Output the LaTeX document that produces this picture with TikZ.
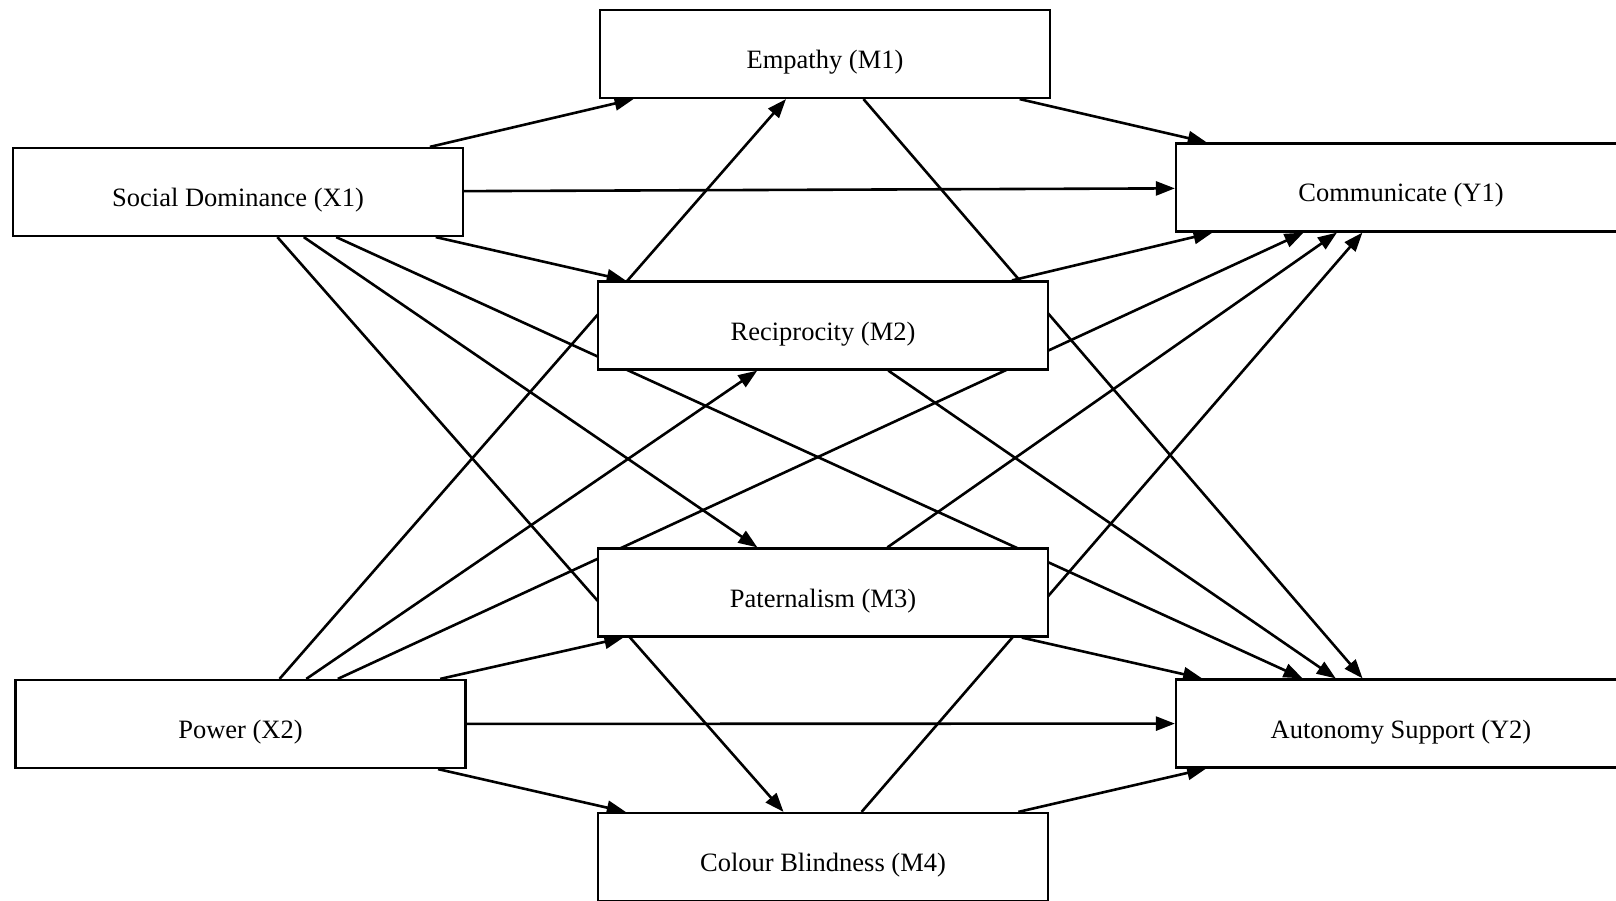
\documentclass[tikz,border=0pt]{standalone}
\usepackage{fontspec}
\setmainfont{Liberation Serif}
\usetikzlibrary{arrows.meta}
\pgfdeclarelayer{edges}
\pgfsetlayers{edges,main}

\tikzset{
  var/.style={draw=black, fill=white, line width=2.2pt, rectangle, inner sep=0pt,
    minimum width=450pt, minimum height=88pt,
    font=\fontsize{26.5}{30}\selectfont, text height=29pt, text depth=0pt},
  path/.style={line width=2.6pt, -{Triangle[length=19pt, width=14pt]}}
}

\begin{document}
\begin{tikzpicture}[x=1pt, y=-1pt]
  \useasboundingbox (0,0) rectangle (1616,901);

  % predictors, mediators and outcomes
  \node[var] (X1) at (238,192)   {Social Dominance (X1)};
  \node[var] (X2) at (240.5,724) {Power (X2)};
  \node[var] (M1) at (825,54)    {Empathy (M1)};
  \node[var] (M2) at (823,325.5) {Reciprocity (M2)};
  \node[var] (M3) at (823,592.5) {Paternalism (M3)};
  \node[var] (M4) at (823,857)   {Colour Blindness (M4)};
  \node[var] (Y1) at (1401,187.5) {Communicate (Y1)};
  \node[var] (Y2) at (1401,723.5) {Autonomy Support (Y2)};

  % paths, drawn beneath the boxes
  \begin{pgfonlayer}{edges}
    \foreach \s in {X1,X2}{
      \foreach \t in {M1,M2,M3,M4,Y1,Y2}{
        \draw[path] (\s) -- (\t);
      }
    }
    \foreach \s in {M1,M2,M3,M4}{
      \foreach \t in {Y1,Y2}{
        \draw[path] (\s) -- (\t);
      }
    }
  \end{pgfonlayer}
\end{tikzpicture}
\end{document}
